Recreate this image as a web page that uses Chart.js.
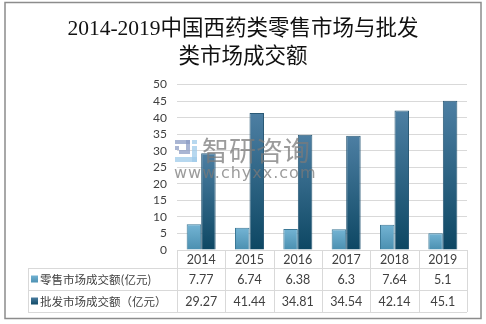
<!DOCTYPE html>
<html>
<head>
<meta charset="utf-8">
<script src="https://cdn.jsdelivr.net/npm/chart.js@4.4.0/dist/chart.umd.min.js"></script>
<style>
  html, body { margin: 0; padding: 0; background: #fff; }
  #wrap { width: 486px; height: 324px; position: relative; }
</style>
</head>
<body>
<div id="wrap"><canvas id="myChart" width="486" height="324"></canvas></div>
<script>
const years = ["2014", "2015", "2016", "2017", "2018", "2019"];
const retailValues = [7.77, 6.74, 6.38, 6.3, 7.64, 5.1];
const wholesaleValues = [29.27, 41.44, 34.81, 34.54, 42.14, 45.1];
const seriesNames = ["零售市场成交额(亿元)", "批发市场成交额（亿元）"];
const titleLines = ["2014-2019中国西药类零售市场与批发", "类市场成交额"];

const textColor = "#404040";
const lineColor = "#d9d9d9";

// vertical gradient for each bar, from its top to the base line
const barGradient = (top, bottom) => (ctx) => {
  const chart = ctx.chart;
  if (!chart.chartArea || ctx.raw === undefined) return top;
  const y = chart.scales.y;
  const y0 = y.getPixelForValue(ctx.raw);
  const y1 = y.getPixelForValue(0);
  const g = chart.ctx.createLinearGradient(0, y0, 0, y1);
  g.addColorStop(0, top);
  g.addColorStop(1, bottom);
  return g;
};

const frameAndTable = {
  id: "frameAndTable",
  beforeDraw(chart) {
    const c = chart.ctx;
    c.save();
    c.strokeStyle = "#8c8c8c";
    c.lineWidth = 1.5;
    c.strokeRect(5, 2.5, 476, 316);
    c.restore();
  },
  afterDatasetsDraw(chart) {
    const c = chart.ctx;
    // watermark
    c.save();
    c.globalAlpha = 0.75;
    c.fillStyle = "#8c9cc4";
    c.fillRect(175, 140, 15, 4);
    c.fillRect(186, 140, 4, 10);
    c.fillRect(175, 146, 4, 4);
    c.fillRect(179, 150, 11, 4);
    c.fillStyle = "#9fcbea";
    c.fillRect(192, 140, 5, 4);
    c.fillRect(192, 146, 5, 16);
    c.fillRect(175, 157, 22, 5);
    c.fillStyle = "#7a7a7a";
    c.font = "27px 'Noto Sans CJK SC'";
    c.textBaseline = "middle";
    c.textAlign = "left";
    c.fillText("智研咨询", 202, 151);
    c.font = "16px 'DejaVu Sans'";
    c.letterSpacing = "1px";
    c.fillText("www.chyxx.com", 174, 174);
    c.restore();

    // data table below the plot
    const area = chart.chartArea;
    const x = chart.scales.x;
    const rowTop = [area.bottom, 268, 290, 312];
    const leftCol = 28;
    const edges = [];
    for (let i = 0; i < years.length; i++) {
      edges.push(x.getPixelForValue(i) - (area.right - area.left) / years.length / 2);
    }
    edges.push(area.right);

    c.save();
    c.strokeStyle = lineColor;
    c.lineWidth = 1;
    c.beginPath();
    c.moveTo(area.left, rowTop[0] + 0.5);
    c.lineTo(area.right, rowTop[0] + 0.5);
    for (let r = 1; r < rowTop.length; r++) {
      c.moveTo(leftCol, rowTop[r] + 0.5);
      c.lineTo(area.right, rowTop[r] + 0.5);
    }
    edges.forEach((e) => {
      c.moveTo(Math.round(e) + 0.5, rowTop[0]);
      c.lineTo(Math.round(e) + 0.5, rowTop[3]);
    });
    c.moveTo(leftCol + 0.5, rowTop[1]);
    c.lineTo(leftCol + 0.5, rowTop[3]);
    c.stroke();

    c.fillStyle = textColor;
    c.textAlign = "center";
    c.textBaseline = "middle";
    c.font = "12.5px Lato";
    years.forEach((yr, i) => {
      const cx = x.getPixelForValue(i);
      c.fillText(yr, cx, (rowTop[0] + rowTop[1]) / 2 + 1);
      c.fillText(String(retailValues[i]), cx, (rowTop[1] + rowTop[2]) / 2 + 1);
      c.fillText(String(wholesaleValues[i]), cx, (rowTop[2] + rowTop[3]) / 2 + 1);
    });

    const keys = [["#74b4d4", "#4a8fb0"], ["#4d7fa3", "#0d4763"]];
    seriesNames.forEach((name, r) => {
      const cy = (rowTop[r + 1] + rowTop[r + 2]) / 2;
      const g = c.createLinearGradient(0, cy - 4, 0, cy + 4);
      g.addColorStop(0, keys[r][0]);
      g.addColorStop(1, keys[r][1]);
      c.fillStyle = g;
      c.fillRect(31, cy - 3.5, 7, 7);
      c.fillStyle = textColor;
      c.textAlign = "left";
      c.font = "11.5px 'Noto Sans CJK SC'";
      c.fillText(name, 40, cy + 1);
    });
    c.restore();
  },
};

new Chart(document.getElementById("myChart").getContext("2d"), {
  type: "bar",
  data: {
    labels: years,
    datasets: [
      {
        label: seriesNames[0],
        data: retailValues,
        backgroundColor: barGradient("#74b4d4", "#4a8fb0"),
        borderColor: "#3b7896",
        borderWidth: 1,
        categoryPercentage: 0.6,
        barPercentage: 1,
      },
      {
        label: seriesNames[1],
        data: wholesaleValues,
        backgroundColor: barGradient("#4d7fa3", "#0d4763"),
        borderColor: "#2b5a76",
        borderWidth: 1,
        categoryPercentage: 0.6,
        barPercentage: 1,
      },
    ],
  },
  options: {
    responsive: false,
    animation: false,
    layout: { padding: { left: 0, right: 0, top: 0, bottom: 74 } },
    plugins: {
      legend: { display: false },
      tooltip: { enabled: false },
      title: {
        display: true,
        text: titleLines,
        color: "#111",
        font: { size: 21.5, family: "'Liberation Serif', 'Noto Sans CJK SC'", weight: "normal", lineHeight: 1.27 },
        padding: { top: 16, bottom: 14 },
      },
    },
    scales: {
      x: {
        grid: { display: false },
        border: { display: false },
        ticks: { display: false },
        afterFit: (s) => { s.height = 0; },
      },
      y: {
        min: 0,
        max: 50,
        ticks: { stepSize: 5, autoSkip: false, padding: 10, color: textColor, font: { size: 12, family: "Lato" } },
        grid: { color: lineColor, drawTicks: false },
        border: { display: false },
        afterFit: (s) => { s.width = 177; },
      },
      // empty right axis, only keeps the plot off the right frame
      yRight: {
        position: "right",
        display: true,
        grid: { display: false },
        border: { display: false },
        ticks: { display: false },
        afterFit: (s) => { s.width = 19; },
      },
    },
  },
  plugins: [frameAndTable],
});
</script>
</body>
</html>
